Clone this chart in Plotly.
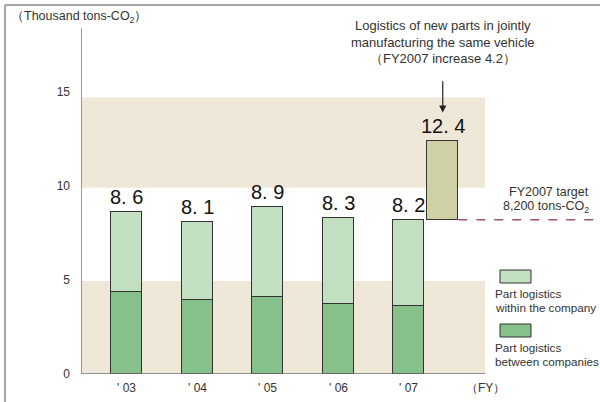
import plotly.graph_objects as go

years = ["' 03", "' 04", "' 05", "' 06", "' 07"]
between = [4.35, 3.95, 4.1, 3.7, 3.6]
totals = [8.6, 8.1, 8.9, 8.3, 8.2]
total_labels = ["8. 6", "8. 1", "8. 9", "8. 3", "8. 2"]
within = [t - b for t, b in zip(totals, between)]
increase = 4.2
increase_total = 12.4
increase_label = "12. 4"
target = 8.2
yticks = [0, 5, 10, 15]

xpos = list(range(len(years)))
inc_x = 4.48
bw = 0.44

C_LIGHT = "#c3dfc1"
C_DARK = "#86c08a"
C_INC = "#cfd0a4"
C_BAND = "#efe8d8"
EDGE = "#333333"
TXT = "#333333"
FONT = "Liberation Sans, Arial, sans-serif"
NUMFONT = "Liberation Sans Narrow, Arial Narrow, sans-serif"


def px(x):
    return (x - 81) / 519


def py(y):
    return (374 - y) / 346


fig = go.Figure()
fig.add_bar(x=xpos, y=between, width=bw, marker=dict(color=C_DARK, line=dict(color=EDGE, width=1)), name="between")
fig.add_bar(x=xpos, y=within, width=bw, marker=dict(color=C_LIGHT, line=dict(color=EDGE, width=1)), name="within")
fig.add_bar(x=[inc_x], y=[increase], base=[target], width=bw,
            marker=dict(color=C_INC, line=dict(color=EDGE, width=1)), name="increase")

xr = [-0.65, 6.71]
shapes = []
shapes.append(dict(type="rect", xref="x", yref="y", x0=-0.65, x1=5.08, y0=0, y1=4.95,
                   fillcolor=C_BAND, line=dict(width=0), layer="below"))
shapes.append(dict(type="rect", xref="x", yref="y", x0=-0.65, x1=5.08, y0=9.9, y1=14.7,
                   fillcolor=C_BAND, line=dict(width=0), layer="below"))
shapes.append(dict(type="line", xref="x", yref="y", x0=-0.65, x1=5.08, y0=0, y1=0,
                   line=dict(color="#777777", width=1.5)))
shapes.append(dict(type="line", xref="x", yref="paper", x0=-0.65, x1=-0.65, y0=0, y1=1,
                   line=dict(color="#777777", width=1.5)))
shapes.append(dict(type="line", xref="x", yref="y", x0=inc_x + bw / 2, x1=6.8, y0=target, y1=target,
                   line=dict(color="#a05070", width=1.5, dash="dash")))
shapes.append(dict(type="line", xref="paper", yref="paper", x0=px(5), x1=1.1, y0=py(5), y1=py(5),
                   line=dict(color="#888888", width=1.5)))
shapes.append(dict(type="line", xref="paper", yref="paper", x0=px(5), x1=px(5), y0=py(5), y1=-0.2,
                   line=dict(color="#888888", width=1.5)))
shapes.append(dict(type="rect", xref="paper", yref="paper", x0=px(500), x1=px(531),
                   y0=py(283), y1=py(270), fillcolor=C_LIGHT, line=dict(color=EDGE, width=1)))
shapes.append(dict(type="rect", xref="paper", yref="paper", x0=px(500), x1=px(531),
                   y0=py(337), y1=py(324), fillcolor=C_DARK, line=dict(color=EDGE, width=1)))

ann = []
for x, t, lab in zip(xpos, totals, total_labels):
    ann.append(dict(x=x, y=t, text=lab, showarrow=False, yanchor="bottom", yshift=2,
                    font=dict(family=NUMFONT, size=20, color="#111")))
ann.append(dict(x=inc_x, y=increase_total, text=increase_label, showarrow=False, yanchor="bottom", yshift=2,
                font=dict(family=NUMFONT, size=20, color="#111")))
for x, lab in zip(xpos, years):
    ann.append(dict(x=x, y=0, text=lab, showarrow=False, yanchor="top", yshift=-5,
                    font=dict(family=FONT, size=12, color=TXT)))
ann.append(dict(x=5.08, y=0, text="（FY）", showarrow=False, yanchor="top", yshift=-5,
                font=dict(family=FONT, size=12, color=TXT)))
ann.append(dict(xref="paper", yref="paper", x=px(9), y=py(17), text="（Thousand tons-CO<sub>2</sub>）",
                showarrow=False, xanchor="left", yanchor="middle", font=dict(family=FONT, size=12.5, color=TXT)))
ann.append(dict(x=inc_x, y=13.9, ax=inc_x, ay=15.65, axref="x", ayref="y", text="", showarrow=True,
                arrowhead=2, arrowsize=1.2, arrowwidth=1.2, arrowcolor="#222"))
for yy, line in zip([25, 42, 58], ["Logistics of new parts in jointly", "manufacturing the same vehicle",
                                   "（FY2007 increase 4.2）"]):
    ann.append(dict(xref="x", yref="paper", x=inc_x, y=py(yy), text=line, showarrow=False,
                    xanchor="center", yanchor="middle", font=dict(family=FONT, size=13, color=TXT)))
for yy, line in zip([192, 207], ["FY2007 target", "8,200 tons-CO<sub>2</sub>"]):
    ann.append(dict(xref="paper", yref="paper", x=px(591), y=py(yy), text=line, showarrow=False,
                    xanchor="right", yanchor="middle", font=dict(family=FONT, size=12.5, color=TXT)))
for yy, line in zip([293, 307, 347, 361], ["Part logistics", "within the company",
                                           "Part logistics", "between companies"]):
    ann.append(dict(xref="paper", yref="paper", x=px(493), y=py(yy), text=line, showarrow=False,
                    xanchor="left", yanchor="middle", font=dict(family=FONT, size=11.7, color=TXT)))

fig.update_layout(
    width=600, height=402, barmode="stack", showlegend=False,
    margin=dict(l=81, r=0, t=28, b=28),
    paper_bgcolor="white", plot_bgcolor="white",
    xaxis=dict(range=xr, showticklabels=False, showgrid=False, zeroline=False, showline=False, fixedrange=True),
    yaxis=dict(range=[0, 18.4], tickvals=yticks, showgrid=False, zeroline=False, showline=False,
               ticks="", ticklabelstandoff=10, tickfont=dict(family=FONT, size=12, color=TXT)),
    shapes=shapes, annotations=ann, bargap=0,
)
fig.write_html("out.html", config={"displayModeBar": False},
               post_script="document.body.style.margin='0px';document.body.style.overflow='hidden';")
